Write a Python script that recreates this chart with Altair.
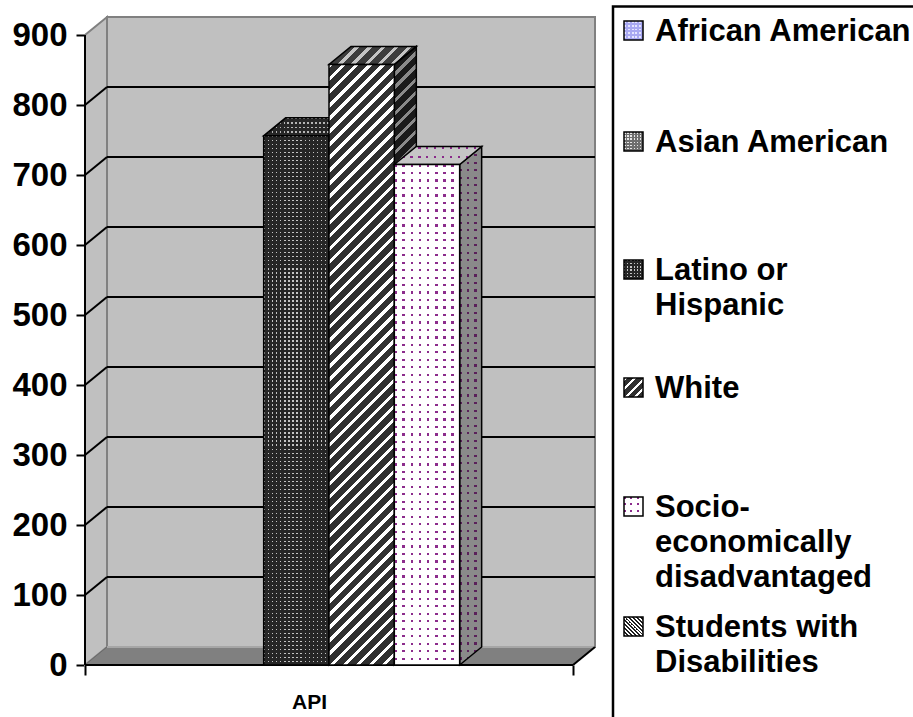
import altair as alt
import pandas as pd

# ---- data -------------------------------------------------------------
CATEGORY = "API"
SERIES = [
    "African American",
    "Asian American",
    "Latino or Hispanic",
    "White",
    "Socio-economically disadvantaged",
    "Students with Disabilities",
]
LEGEND_LINES = [
    ["African American"],
    ["Asian American"],
    ["Latino or", "Hispanic"],
    ["White"],
    ["Socio-", "economically", "disadvantaged"],
    ["Students with", "Disabilities"],
]
API_SCORES = [None, None, 756, 858, 715, None]
Y_TICKS = [0, 100, 200, 300, 400, 500, 600, 700, 800, 900]

# ---- layout -----------------------------------------------------------
FONT = "Liberation Sans"
PLOT_W, PLOT_H = 510, 648
PAD = {"left": 85, "top": 17, "right": 318, "bottom": 52}
PX_PER_Y = 0.7                      # pixels per score point
Y_TOP = PLOT_H / PX_PER_Y
DEPTH_PX = (22, 18)                 # 3-D depth offset of walls and bars
END_GAP = 0.735                     # floor margin on each side, in bar widths
N = len(SERIES)
PX_PER_X = (PLOT_W - DEPTH_PX[0]) / (N + 2 * END_GAP)
DX = DEPTH_PX[0] / PX_PER_X
DY = DEPTH_PX[1] / PX_PER_Y
X_LO, X_HI = -END_GAP, N + END_GAP

# legend placement (pixels, page coordinates)
LEG_BOX_X, LEG_BOX_Y = 613, 6.5
LEG_SWATCH_X, LEG_SWATCH = 624, 19
LEG_TEXT_X = 655
LEG_BASELINES = [41, 152, 280, 398, 517, 637]
LEG_LINE_H = 35

xs = alt.Scale(domain=[X_LO, X_HI + DX], nice=False, zero=False)
ys = alt.Scale(domain=[0, Y_TOP], nice=False, zero=False)
CLEAR = "rgba(0,0,0,0)"


# ---- fill patterns built from linear gradients -------------------------
def _stops(n, frac, on, off):
    out = []
    for k in range(n):
        a, b, c = k / n, (k + frac) / n, (k + 1) / n
        out += [
            {"offset": round(a, 6), "color": on},
            {"offset": round(b, 6), "color": on},
            {"offset": round(b, 6), "color": off},
            {"offset": round(c, 6), "color": off},
        ]
    return out


def rows(h, period, frac, on, off):
    n = max(1, round(h / period))
    return {"gradient": "linear", "x1": 0, "y1": 0, "x2": 0, "y2": 1,
            "stops": _stops(n, frac, on, off)}


def cols(w, period, frac, on, off):
    n = max(1, round(w / period))
    return {"gradient": "linear", "x1": 0, "y1": 0, "x2": 1, "y2": 0,
            "stops": _stops(n, frac, on, off)}


def diagonal(w, h, period, frac, on, off, rising=True):
    n = max(1, round((w + h) / period))
    s = (w + h) / (w * w + h * h)
    a, b = w * s, h * s
    if rising:
        x1, y1, x2, y2 = 0, 0, a, b
    else:
        x1, y1, x2, y2 = 1, 0, 1 - a, b
    return {"gradient": "linear", "x1": x1, "y1": y1, "x2": x2, "y2": y2,
            "stops": _stops(n, frac, on, off)}


def fills(spec, w, h):
    kind = spec[0]
    if kind == "dots":
        _, base, dot, px, py, frac = spec
        return [rows(h, py, frac, dot, base), cols(w, px, frac, CLEAR, base)]
    if kind == "stripes":
        _, dark, light, period, frac, rising = spec
        return [diagonal(w, h, period, frac, light, dark, rising)]
    return [spec[1]]


STYLES = {
    "African American": {
        "legend": ("dots", "#a8a8f2", "#e4e4ff", 4, 4, 0.5)},
    "Asian American": {
        "legend": ("dots", "#6e6e6e", "#e6e6e6", 3, 3, 0.5)},
    "Latino or Hispanic": {
        "front": ("dots", "#262626", "#c4c4c4", 4, 4, 0.35),
        "top": ("dots", "#262626", "#b4b4b4", 4, 4, 0.35),
        "side": ("dots", "#121212", "#808080", 4, 4, 0.35),
        "legend": ("dots", "#262626", "#c4c4c4", 3, 3, 0.4)},
    "White": {
        "front": ("stripes", "#303030", "#ffffff", 13, 0.34, True),
        "top": ("stripes", "#3c3c3c", "#c4c4c4", 13, 0.34, True),
        "side": ("stripes", "#1a1a1a", "#8a8a8a", 13, 0.34, True),
        "legend": ("stripes", "#303030", "#ffffff", 9, 0.35, True)},
    "Socio-economically disadvantaged": {
        "front": ("dots", "#ffffff", "#8c2c8c", 8, 7.5, 0.3),
        "top": ("dots", "#c6c6c6", "#8a2a8a", 8, 7.5, 0.3),
        "side": ("dots", "#8a8a8a", "#5a205a", 8, 7.5, 0.3),
        "legend": ("dots", "#ffffff", "#8c2c8c", 6, 6, 0.33)},
    "Students with Disabilities": {
        "legend": ("stripes", "#202020", "#ffffff", 4, 0.5, False)},
}


# ---- layer helpers -----------------------------------------------------
def X(field="x"):
    return alt.X(f"{field}:Q", scale=xs)


def Y(field="y"):
    return alt.Y(f"{field}:Q", scale=ys)


def rect_layers(row, spec, w, h, stroke="black", sw=1.5):
    out = []
    fl = fills(spec, w, h)
    for j, f in enumerate(fl):
        kw = {"fill": f}
        if j == len(fl) - 1:
            kw.update(stroke=stroke, strokeWidth=sw)
        out.append(alt.Chart(pd.DataFrame([row])).mark_rect(**kw).encode(
            x=X(), x2="x2:Q", y=Y(), y2="y2:Q"))
    return out


def area_layers(rows_, spec, w, h, stroke="black", sw=1.5):
    out = []
    fl = fills(spec, w, h)
    for j, f in enumerate(fl):
        kw = {"fill": f}
        if j == len(fl) - 1:
            kw.update(stroke=stroke, strokeWidth=sw)
        out.append(alt.Chart(pd.DataFrame(rows_)).mark_area(**kw).encode(
            x=X(), y=Y(), y2="y2:Q"))
    return out


def rules(rows_, color, sw):
    return alt.Chart(pd.DataFrame(rows_)).mark_rule(
        color=color, strokeWidth=sw).encode(
        x=X(), x2="x2:Q", y=Y(), y2="y2:Q")


# value axis line; this layer carries the axis definitions for both channels
axis_layer = alt.Chart(pd.DataFrame([{"x": X_LO, "y": 0, "y2": Y_TICKS[-1]}])).mark_rule(
    color="black", strokeWidth=2).encode(
    x=alt.X("x:Q", scale=xs, axis=alt.Axis(
        values=[X_LO, X_HI], labels=False, domain=False, grid=False,
        ticks=True, tickSize=10, tickWidth=2, tickColor="black",
        title=CATEGORY, titleFont=FONT, titleFontSize=21, titleFontWeight="bold",
        titleColor="black", titleX=224, titleY=43, titleBaseline="alphabetic",
        titleAlign="center")),
    y=alt.Y("y:Q", scale=ys, axis=alt.Axis(
        values=Y_TICKS, grid=False, domain=False, ticks=True, tickSize=9,
        tickWidth=2, tickColor="black", labels=True, labelFont=FONT,
        labelFontSize=33, labelFontWeight="bold", labelColor="black",
        labelPadding=9, labelOverlap=False, title="")),
    y2="y2:Q")

layers = []

# walls
layers += rect_layers({"x": X_LO + DX, "x2": X_HI + DX, "y": DY, "y2": 900 + DY},
                      ("solid", "#c0c0c0"), 0, 0, stroke="#808080", sw=2)
layers += area_layers([{"x": X_LO, "y": 0, "y2": 900},
                       {"x": X_LO + DX, "y": DY, "y2": 900 + DY}],
                      ("solid", "#c0c0c0"), 0, 0, stroke="#808080", sw=2)

# gridlines on the back wall and the side wall
inner = Y_TICKS[1:-1]
layers.append(rules([{"x": X_LO + DX, "x2": X_HI + DX, "y": v + DY, "y2": v + DY}
                     for v in inner], "black", 2))
layers.append(rules([{"x": X_LO, "x2": X_LO + DX, "y": v, "y2": v + DY}
                     for v in inner], "black", 2))

# floor
layers += area_layers([{"x": X_LO, "y": 0, "y2": 0},
                       {"x": X_LO + DX, "y": 0, "y2": DY},
                       {"x": X_HI, "y": 0, "y2": DY},
                       {"x": X_HI + DX, "y": DY, "y2": DY}],
                      ("solid", "#808080"), 0, 0, stroke="#6a6a6a", sw=1)
layers.append(rules([{"x": X_LO + DX, "x2": X_HI + DX, "y": DY, "y2": DY}],
                    "#d8d8d8", 1))
layers.append(rules([{"x": X_LO, "x2": X_HI, "y": 0, "y2": 0},
                     {"x": X_HI, "x2": X_HI + DX, "y": 0, "y2": DY}], "black", 2))
layers.append(axis_layer)

# 3-D bars: side, top, then front face, left to right
for i, (name, v) in enumerate(zip(SERIES, API_SCORES)):
    if v is None:
        continue
    st = STYLES[name]
    h_px = v * PX_PER_Y
    layers += area_layers([{"x": i + 1, "y": 0, "y2": v},
                           {"x": i + 1 + DX, "y": DY, "y2": v + DY}],
                          st["side"], DEPTH_PX[0], h_px + DEPTH_PX[1])
    layers += area_layers([{"x": i, "y": v, "y2": v},
                           {"x": i + DX, "y": v, "y2": v + DY},
                           {"x": i + 1, "y": v, "y2": v + DY},
                           {"x": i + 1 + DX, "y": v + DY, "y2": v + DY}],
                          st["top"], PX_PER_X + DEPTH_PX[0], DEPTH_PX[1])
    layers += rect_layers({"x": i, "x2": i + 1, "y": 0, "y2": v},
                          st["front"], PX_PER_X, h_px)

# legend
one = pd.DataFrame({"k": [0]})
ox, oy = PAD["left"], PAD["top"]
layers.append(alt.Chart(one).mark_rect(fill="white", stroke="black", strokeWidth=2.5).encode(
    x=alt.value(LEG_BOX_X - ox), x2=alt.value(913 - ox + 20),
    y=alt.value(LEG_BOX_Y - oy), y2=alt.value(717 - oy + 20)))
for name, lines, base in zip(SERIES, LEGEND_LINES, LEG_BASELINES):
    fl = fills(STYLES[name]["legend"], LEG_SWATCH, LEG_SWATCH)
    for j, f in enumerate(fl):
        kw = {"fill": f}
        if j == len(fl) - 1:
            kw.update(stroke="black", strokeWidth=1.5)
        layers.append(alt.Chart(one).mark_rect(**kw).encode(
            x=alt.value(LEG_SWATCH_X - ox), x2=alt.value(LEG_SWATCH_X + LEG_SWATCH - ox),
            y=alt.value(base - 20 - oy), y2=alt.value(base - 20 + LEG_SWATCH - oy)))
    layers.append(alt.Chart(one).mark_text(
        text=lines, font=FONT, fontSize=31, fontWeight="bold", color="black",
        align="left", baseline="alphabetic", lineHeight=LEG_LINE_H).encode(
        x=alt.value(LEG_TEXT_X - ox), y=alt.value(base - oy)))

chart = alt.layer(*layers).properties(
    width=PLOT_W, height=PLOT_H, padding=PAD,
    autosize=alt.AutoSizeParams(type="none"), background="white",
).configure_view(strokeWidth=0)

chart.save("out.html", embed_options={"renderer": "svg", "actions": False})
